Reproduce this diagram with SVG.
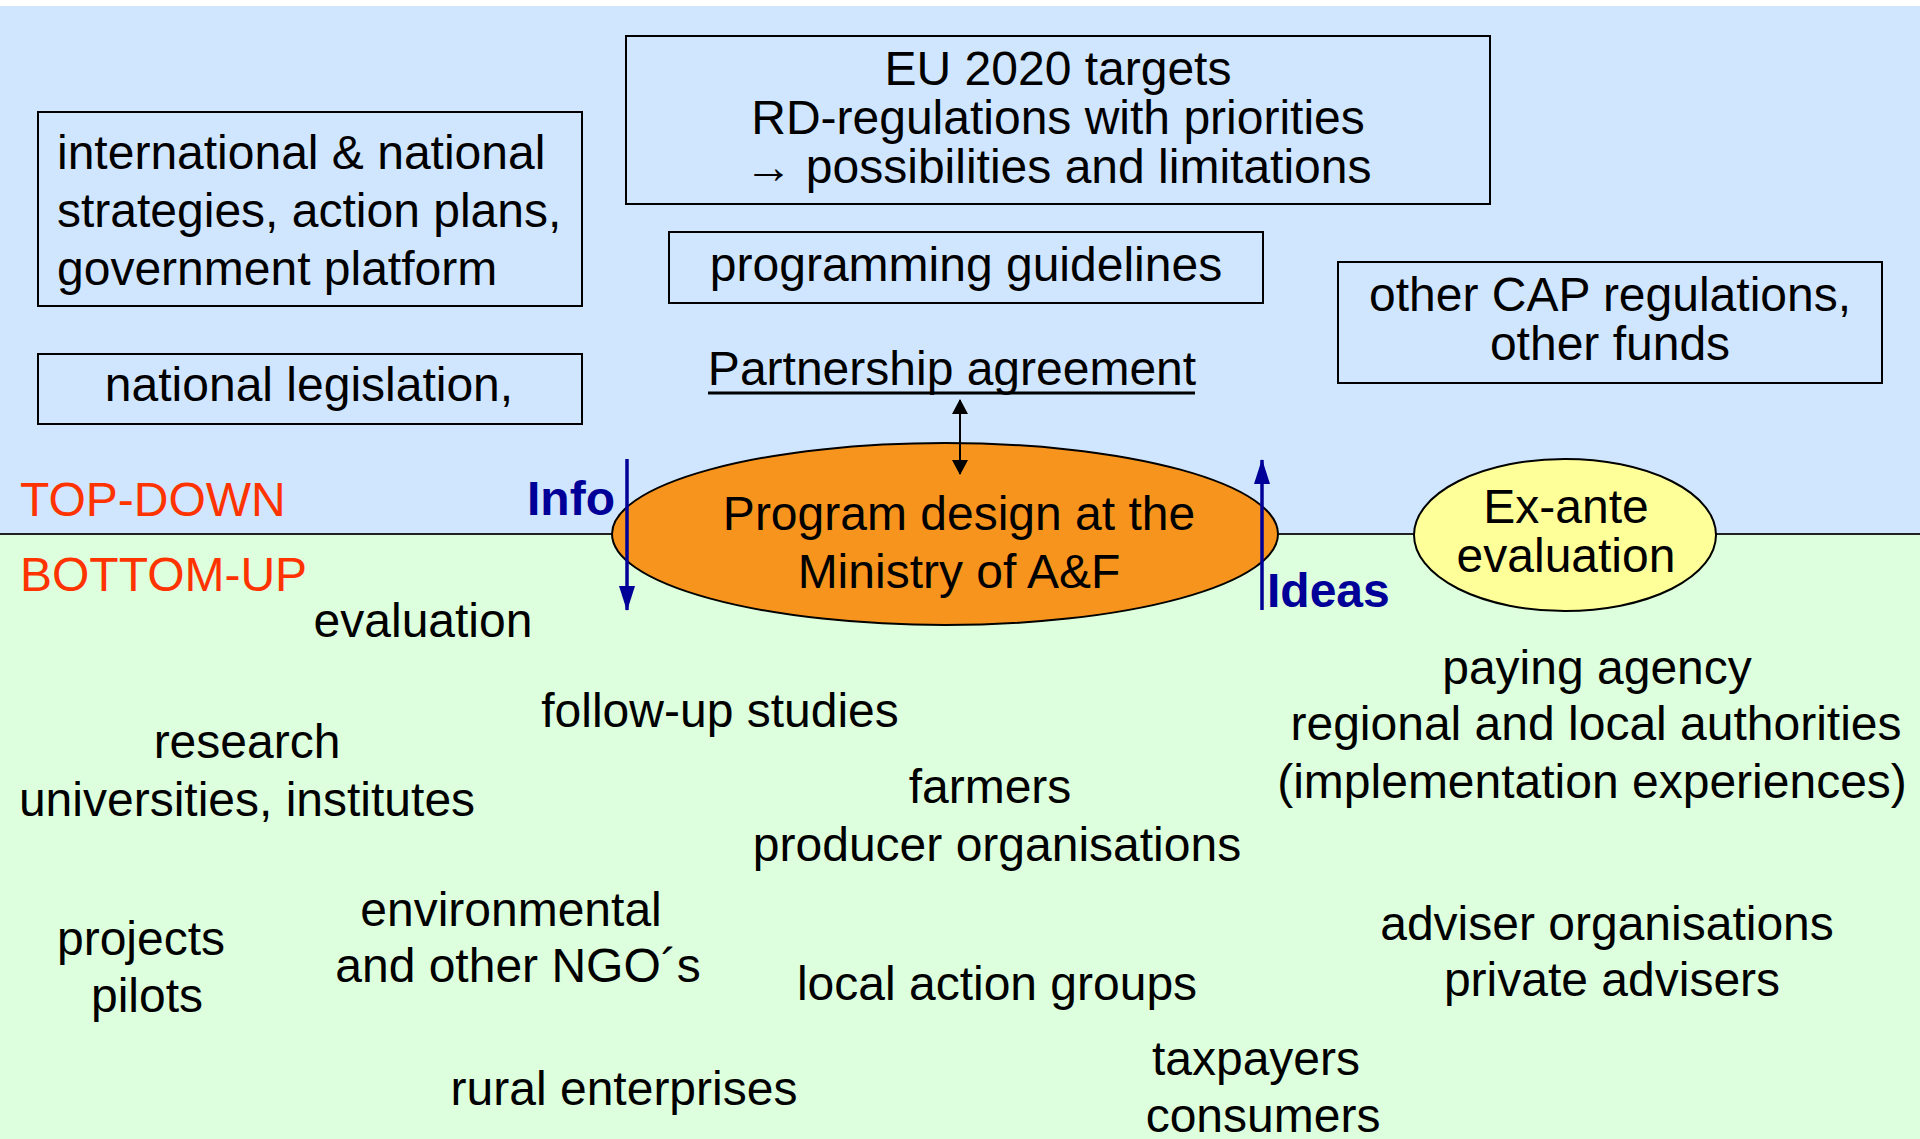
<svg xmlns="http://www.w3.org/2000/svg" width="1920" height="1139" viewBox="0 0 1920 1139">
<style>
text{font-family:"Liberation Sans",Arial,sans-serif;font-size:48px;fill:#000}
.c{text-anchor:middle}
.box{fill:none;stroke:#000;stroke-width:2}
.lbl{fill:#FF3300}
.nav{fill:#000099;font-weight:bold}
</style>
<defs>
<marker id="ab" viewBox="0 0 15 16" refX="14" refY="8" markerWidth="15" markerHeight="16" markerUnits="userSpaceOnUse" orient="auto"><path d="M0,0 L15,8 L0,16 Z" fill="#000"/></marker>
<marker id="abs" viewBox="0 0 15 16" refX="1" refY="8" markerWidth="15" markerHeight="16" markerUnits="userSpaceOnUse" orient="auto"><path d="M15,0 L0,8 L15,16 Z" fill="#000"/></marker>
<marker id="an" viewBox="0 0 25 16" refX="24" refY="8" markerWidth="25" markerHeight="16" markerUnits="userSpaceOnUse" orient="auto"><path d="M0,0 L25,8 L0,16 Z" fill="#000099"/></marker>
</defs>
<rect x="0" y="0" width="1920" height="1139" fill="#fff"/>
<rect x="0" y="6" width="1920" height="528" fill="#D0E6FF"/>
<rect x="0" y="534" width="1920" height="605" fill="#DDFFDD"/>
<line x1="0" y1="534" x2="1920" y2="534" stroke="#222" stroke-width="2"/>

<g id="strategies"><rect class="box" x="38" y="112" width="544" height="194"/>
<text x="57" y="169">international &amp; national</text>
<text x="57" y="227">strategies, action plans,</text>
<text x="57" y="285">government platform</text></g>

<g id="legislation"><rect class="box" x="38" y="354" width="544" height="70"/>
<text class="c" x="309" y="401">national legislation,</text></g>

<g id="eu"><rect class="box" x="626" y="36" width="864" height="168"/>
<text class="c" x="1058" y="85">EU 2020 targets</text>
<text class="c" x="1058" y="134">RD-regulations with priorities</text>
<text class="c" x="1058" y="183">→ possibilities and limitations</text></g>

<g id="guidelines"><rect class="box" x="669" y="232" width="594" height="71"/>
<text class="c" x="966" y="281">programming guidelines</text></g>

<g id="partnership"><text class="c" x="952" y="385">Partnership agreement</text>
<line x1="708" y1="393" x2="1195" y2="393" stroke="#000" stroke-width="3"/></g>

<g id="othercap"><rect class="box" x="1338" y="262" width="544" height="121"/>
<text class="c" x="1610" y="311">other CAP regulations,</text>
<text class="c" x="1610" y="360">other funds</text></g>

<g id="topdown"><text class="lbl" x="20" y="516">TOP-DOWN</text></g>
<g id="bottomup"><text class="lbl" x="20" y="591">BOTTOM-UP</text></g>

<g id="ministry"><ellipse cx="945" cy="534" rx="333" ry="91" fill="#F7941D" stroke="#000" stroke-width="2"/>
<text class="c" x="959" y="530">Program design at the</text>
<text class="c" x="959" y="588">Ministry of A&amp;F</text></g>

<g id="exante"><ellipse cx="1565" cy="535" rx="151" ry="76" fill="#FFFF99" stroke="#000" stroke-width="2"/>
<text class="c" x="1566" y="523">Ex-ante</text>
<text class="c" x="1566" y="572">evaluation</text></g>

<g id="connectors">
<line x1="960" y1="400" x2="960" y2="474" stroke="#000" stroke-width="2" marker-start="url(#abs)" marker-end="url(#ab)"/>
<line x1="627" y1="459" x2="627" y2="610" stroke="#000099" stroke-width="3.5" marker-end="url(#an)"/>
<line x1="1262" y1="610" x2="1262" y2="460" stroke="#000099" stroke-width="3.5" marker-end="url(#an)"/>
</g>

<g id="info"><text class="nav" x="527" y="515">Info</text></g>
<g id="ideas"><text class="nav" x="1267" y="607">Ideas</text></g>

<g id="evaluation"><text class="c" x="423" y="637">evaluation</text></g>
<g id="followup"><text class="c" x="720" y="727">follow-up studies</text></g>
<g id="research"><text class="c" x="247" y="758">research</text>
<text class="c" x="247" y="816">universities, institutes</text></g>
<g id="farmers"><text class="c" x="990" y="803">farmers</text>
<text class="c" x="997" y="861">producer organisations</text></g>
<g id="paying"><text class="c" x="1597" y="684">paying agency</text>
<text class="c" x="1596" y="740">regional and local authorities</text>
<text class="c" x="1592" y="798">(implementation experiences)</text></g>
<g id="projects"><text class="c" x="141" y="955">projects</text>
<text class="c" x="147" y="1012">pilots</text></g>
<g id="ngo"><text class="c" x="511" y="926">environmental</text>
<text class="c" x="518" y="982">and other NGO´s</text></g>
<g id="lag"><text class="c" x="997" y="1000">local action groups</text></g>
<g id="advisers"><text class="c" x="1607" y="940">adviser organisations</text>
<text class="c" x="1612" y="996">private advisers</text></g>
<g id="rural"><text class="c" x="624" y="1105">rural enterprises</text></g>
<g id="taxpayers"><text class="c" x="1256" y="1075">taxpayers</text>
<text class="c" x="1263" y="1132">consumers</text></g>
</svg>
